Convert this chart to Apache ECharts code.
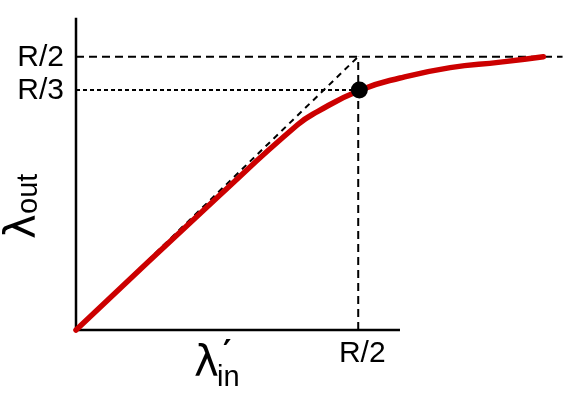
<!DOCTYPE html>
<html>
<head>
<meta charset="utf-8">
<script src="https://cdn.jsdelivr.net/npm/echarts@6/dist/echarts.min.js"></script>
<style>html,body{margin:0;padding:0;background:#fff}#c{width:587px;height:393px}</style>
</head>
<body>
<div id="c"></div>
<script>
// Units: R = 1, so R/2 = 0.5
var curveX = [0, 0.255, 0.392, 0.427, 0.504, 0.574, 0.663, 0.752, 0.828];
var curveY = [0, 0.247, 0.375, 0.399, 0.439, 0.461, 0.480, 0.490, 0.500];
var pointX = 0.502, pointY = 0.439;      // operating point
var halfR = 0.5;                          // R/2
var thirdRLevel = 0.439;                  // drawn height of R/3
var xAxisEnd = 0.574, yAxisEnd = 0.571;   // drawn axis lengths
var halfRLineEnd = 0.862;                 // dashed R/2 line end
var diagStart = -0.014;
var yTickLabels = ['R/2', 'R/3'];
var xTickLabels = ['R/2'];

var chart = echarts.init(document.getElementById('c'));
function pts(xs, ys){ return xs.map(function(x,i){ return [x, ys[i]]; }); }
function seg(data, color, width, type, z){
  return {type:'line', data:data, symbol:'none', clip:false, silent:true, z:z||2,
    lineStyle:{color:color, width:width, type:type||'solid'}, animation:false};
}
var dash = [8,5], dot = [4,3], diag = [6,5];
var option = {
  animation:false,
  grid:{left:76, right:3, top:2, bottom:63},
  xAxis:{type:'value', min:0, max:0.9, show:false},
  yAxis:{type:'value', min:0, max:0.6, show:false},
  series:[
    seg([[0,halfR],[halfRLineEnd,halfR]], '#000', 2, dash),
    seg([[0,thirdRLevel],[halfR,thirdRLevel]], '#000', 2, dot),
    seg([[halfR,0],[halfR,halfR]], '#000', 2, dash),
    seg([[diagStart,diagStart],[halfR,halfR]], '#000', 2, diag),
    seg([[0,0],[0,yAxisEnd]], '#000', 2.5, 'solid', 3),
    seg([[0,0],[xAxisEnd,0]], '#000', 2.5, 'solid', 3),
    {type:'line', data:pts(curveX, curveY), symbol:'none', smooth:0.5, clip:false, z:4,
      lineStyle:{color:'#cc0000', width:5.5, cap:'round'}},
    {type:'scatter', data:[[pointX, pointY]], symbolSize:17, z:5,
      itemStyle:{color:'#000', opacity:1}}
  ]
};
chart.setOption(option);
function px(x,y){ return chart.convertToPixel({gridIndex:0}, [x,y]); }
var p1 = px(0, halfR), p2 = px(0, thirdRLevel), p3 = px(halfR, 0);
var f = '30px "Liberation Sans", Arial, sans-serif';
var lf = '42px "DejaVu Sans", sans-serif';
var sf = '29px "Liberation Sans", sans-serif';
function T(text, x, y, font, align, valign){
  return {type:'text', style:{text:text, x:x, y:y, font:font, fill:'#000', align:align, verticalAlign:valign, textAlign:align, textVerticalAlign:valign}};
}
chart.setOption({graphic:[
  T(yTickLabels[0], p1[0]-12, p1[1]+1, f, 'right', 'middle'),
  T(yTickLabels[1], p2[0]-12, p2[1]+1, f, 'right', 'middle'),
  T(xTickLabels[0], p3[0]+4, p3[1]+24, f, 'center', 'middle'),
  // lambda_in
  T('λ', 194, 386, lf, 'left', 'bottom'),
  T('′', 223, 370, 'bold 32px "DejaVu Sans", sans-serif', 'left', 'bottom'),
  T('in', 217, 392, sf, 'left', 'bottom'),
  // lambda_out (rotated)
  {type:'group', x:36, y:239, rotation:Math.PI/2, children:[
    T('λ', 0, 9, lf, 'left', 'bottom'),
    T('out', 25, 7, sf, 'left', 'bottom')
  ]}
]});
</script>
</body>
</html>
